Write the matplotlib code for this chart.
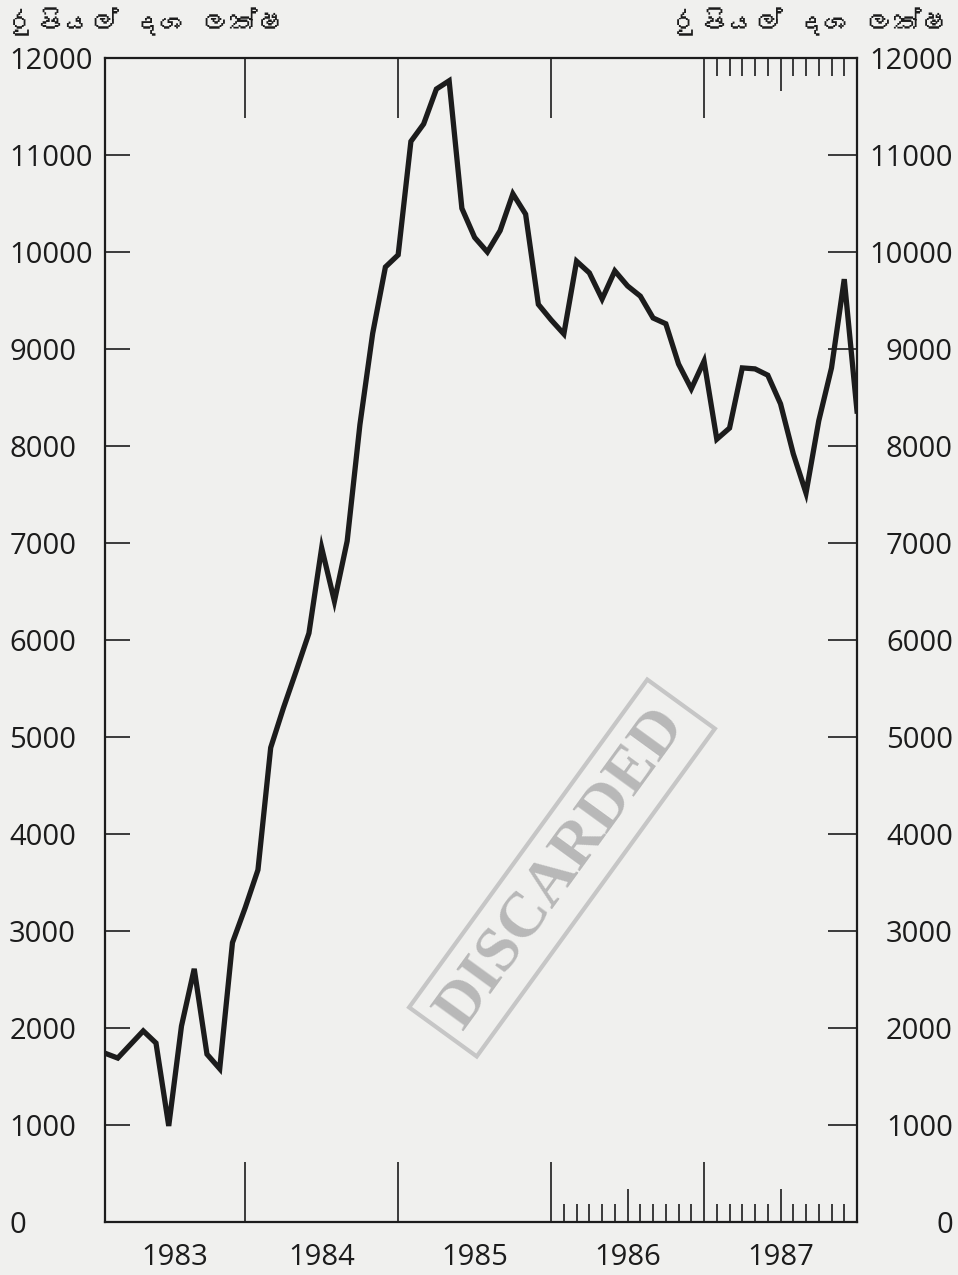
import matplotlib
matplotlib.use("Agg")
import matplotlib.pyplot as plt
import matplotlib.font_manager as fm
from matplotlib.ft2font import FT2Font
import numpy as np

# ---------------- data ----------------
months = list(range(60))  # monthly, Jan 1983 .. Dec 1987
values = [1740, 1690, 1830, 1970, 1845, 990, 2020, 2610, 1730, 1580,
          2880, 3240, 3630, 4890, 5300, 5680, 6070, 6950, 6400, 7020,
          8220, 9160, 9845, 9970, 11140, 11320, 11680, 11765, 10450, 10150,
          10000, 10220, 10600, 10390, 9460, 9300, 9155, 9905, 9785, 9515,
          9805, 9650, 9545, 9320, 9260, 8845, 8590, 8875, 8070, 8185,
          8805, 8795, 8730, 8435, 7920, 7515, 8260, 8805, 9720, 8360]
year_labels = ["1983", "1984", "1985", "1986", "1987"]
year_centers = [5.5, 17, 29, 41, 53]
year_bounds = [11, 23, 35, 47]
y_ticks = list(range(0, 12001, 1000))
y_tick_labels = [str(v) for v in y_ticks]
unit_label = "රුපියල් දශ ලක්ෂ"
stamp_text = "DISCARDED"

# ---------------- fonts ----------------
sinhala_family = None
for f in fm.fontManager.ttflist:
    try:
        cm = FT2Font(f.fname).get_charmap()
    except Exception:
        continue
    if 0x0DBB in cm and 0x0DCA in cm:
        sinhala_family = f.name
        break
head_family = ([sinhala_family] if sinhala_family else []) + ["DejaVu Sans"]
num_family = ["Open Sans", "DejaVu Sans"]

ink = "#1c1c1c"
paper = "#f0f0ee"

fig = plt.figure(figsize=(9.58, 12.75), dpi=100, facecolor=paper)
L, R, B, T = 105 / 958, 857 / 958, 1 - 1222 / 1275, 1 - 58 / 1275
ax = fig.add_axes([L, B, R - L, T - B])
ax.set_facecolor(paper)

ax.plot(months, values, color=ink, lw=3.8, solid_joinstyle="miter", zorder=3)

ax.set_xlim(0, 59)
ax.set_ylim(0, 12000)
for s in ax.spines.values():
    s.set_linewidth(1.6)
    s.set_color(ink)

# y axis: ticks inside on both sides, labels outside
ax.set_yticks(y_ticks)
ax.set_yticklabels(y_tick_labels)
ax.tick_params(axis="y", which="major", direction="in", length=18, width=1.2,
               color=ink, left=True, right=True, labelleft=True, labelright=True,
               labelsize=21, labelcolor=ink, pad=69)
for t in ax.yaxis.get_major_ticks():
    t.label1.set_horizontalalignment("left")
    t.label2.set_horizontalalignment("right")
    t.label1.set_family(num_family)
    t.label2.set_family(num_family)
    t.tick2line.set_markersize(21)

# x axis bottom: year bounds (long), monthly minor in 1986-87
ax.set_xticks(year_bounds)
ax.set_xticklabels([])
bottom_minor = [m for m in range(36, 59) if m not in (41, 47, 53)]
ax.set_xticks(bottom_minor, minor=True)
ax.tick_params(axis="x", which="major", direction="in", length=43, width=1.2,
               color=ink, bottom=True, top=False)
ax.tick_params(axis="x", which="minor", direction="in", length=13, width=1.2,
               color=ink, bottom=True, top=False)

# bottom medium ticks (half-year)
secm = ax.secondary_xaxis("bottom")
secm.set_xticks([41, 53])
secm.set_xticklabels([])
secm.tick_params(direction="in", length=24, width=1.2, color=ink)
secm.spines["bottom"].set_visible(False)

# year labels
secy = ax.secondary_xaxis("bottom")
secy.set_xticks(year_centers)
secy.set_xticklabels(year_labels, family=num_family, fontsize=21, color=ink)
secy.tick_params(length=0, pad=15)
secy.spines["bottom"].set_visible(False)

# top ticks
sect = ax.secondary_xaxis("top")
sect.set_xticks(year_bounds)
sect.set_xticklabels([])
top_minor = [m for m in range(48, 59) if m != 53]
sect.set_xticks(top_minor, minor=True)
sect.tick_params(which="major", direction="in", length=43, width=1.2, color=ink)
sect.tick_params(which="minor", direction="in", length=13, width=1.2, color=ink)
sect.spines["top"].set_visible(False)

sectm = ax.secondary_xaxis("top")
sectm.set_xticks([53])
sectm.set_xticklabels([])
sectm.tick_params(direction="in", length=24, width=1.2, color=ink)
sectm.spines["top"].set_visible(False)

# unit headers
fig.text(8 / 958, 1 - 22 / 1275, unit_label, family=head_family, fontsize=20,
         fontweight="bold", color=ink, ha="left", va="center")
fig.text(950 / 958, 1 - 22 / 1275, unit_label, family=head_family, fontsize=20,
         fontweight="bold", color=ink, ha="right", va="center")

# scan stamp
fig.text(562 / 958, 1 - 868 / 1275, stamp_text, family=["Liberation Serif", "DejaVu Serif"],
         fontsize=46, fontweight="bold", color="#b8b8b8", rotation=54,
         ha="center", va="center", zorder=1,
         bbox=dict(boxstyle="square,pad=0.2", fc="none", ec="#c6c6c6", lw=3))

fig.savefig("out.png", dpi=100, facecolor=paper)
